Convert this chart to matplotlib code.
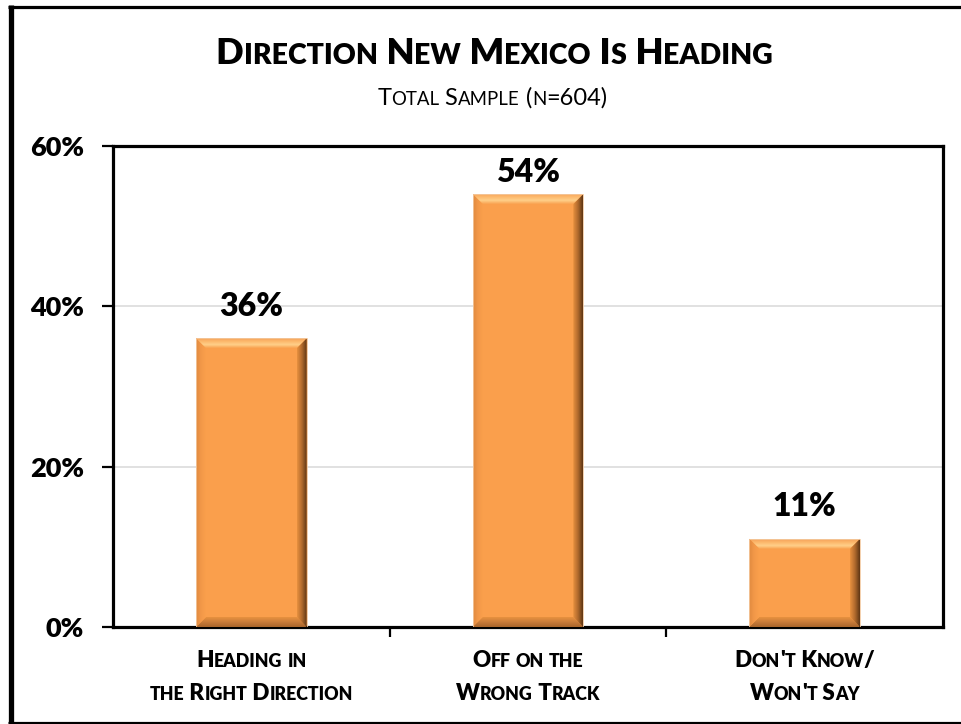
import numpy as np
import matplotlib
matplotlib.use("Agg")
import matplotlib.pyplot as plt
from matplotlib.offsetbox import TextArea, HPacker, VPacker, AnnotationBbox
from matplotlib.lines import Line2D
from matplotlib.patches import Polygon
from matplotlib.colors import LinearSegmentedColormap

# ---- data ----
categories = [["Heading in", "the Right Direction"],
              ["Off on the", "Wrong Track"],
              ["Don't Know/", "Won't Say"]]
values = [36, 54, 11]
yticks = [0, 20, 40, 60]
ytick_labels = ["0%", "20%", "40%", "60%"]
title = "Direction New Mexico Is Heading"
subtitle = "Total Sample (n=604)"

FONT = "Lato"
BOLD = "heavy"
W, H = 961, 724
DPI = 100

fig = plt.figure(figsize=(W / DPI, H / DPI), dpi=DPI)
fig.patch.set_facecolor("white")

ax_l, ax_r, ax_t, ax_b = 113, 943, 146, 627
ax = fig.add_axes([ax_l / W, (H - ax_b) / H, (ax_r - ax_l) / W, (ax_b - ax_t) / H])
ax.set_xlim(-0.5, len(values) - 0.5)
ax.set_ylim(0, 60)

# grid
for y in yticks[1:-1]:
    ax.axhline(y, color="#D9D9D9", lw=1.1, zorder=0)

for s in ax.spines.values():
    s.set_linewidth(2.3)
    s.set_color("black")

ax.set_yticks(yticks)
ax.set_yticklabels(ytick_labels, fontsize=19.5, fontweight=BOLD, family=FONT)
ax.tick_params(axis="y", length=8, width=1.6, pad=13, direction="out")
ax.set_xticks([])
ax.set_xticks(np.arange(0.5, len(values) - 0.5, 1.0), minor=True)
ax.tick_params(axis="x", which="minor", length=7, width=1.6, direction="out")
ax.tick_params(axis="x", which="major", length=0)
ax.set_xticklabels([])

# ---- bevelled bars ----
bar_w = 0.4
px_x = (ax.get_xlim()[1] - ax.get_xlim()[0]) / (ax_r - ax_l)
px_y = 60.0 / (ax_b - ax_t)
bev = 10
dx, dy = bev * px_x, bev * px_y

face = "#FA9F4C"


def grad_face(poly_pts, extent, colors, horizontal):
    poly = Polygon(poly_pts, closed=True, facecolor="none", edgecolor="none",
                   transform=ax.transData)
    ax.add_patch(poly)
    cmap = LinearSegmentedColormap.from_list("g", colors)
    g = np.linspace(0, 1, 64)
    arr = g[None, :] if horizontal else g[:, None]
    im = ax.imshow(arr, cmap=cmap, extent=extent, origin="lower",
                   aspect="auto", interpolation="bilinear", zorder=3)
    im.set_clip_path(poly)


label_gap = 32 * px_y          # label centre above bar top
label_ceiling = 60 - 26 * px_y  # keep labels inside the plot frame

for i, v in enumerate(values):
    x0, x1 = i - bar_w / 2, i + bar_w / 2
    y0, y1 = 0, v
    ax.add_patch(Polygon([(x0, y0), (x1, y0), (x1, y1), (x0, y1)], closed=True,
                         facecolor=face, edgecolor="none", zorder=2))
    # top bevel: light highlight band
    grad_face([(x0, y1), (x1, y1), (x1 - dx, y1 - dy), (x0 + dx, y1 - dy)],
              (x0, x1, y1 - dy, y1),
              ["#F9A250", "#FFD08A", "#FDB86C", "#F5A25A"], horizontal=False)
    # bottom bevel
    grad_face([(x0, y0), (x1, y0), (x1 - dx, y0 + dy), (x0 + dx, y0 + dy)],
              (x0, x1, y0, y0 + dy),
              ["#A9652B", "#C87C3A", "#E8913F"], horizontal=False)
    # left bevel
    grad_face([(x0, y0), (x0, y1), (x0 + dx, y1 - dy), (x0 + dx, y0 + dy)],
              (x0, x0 + dx, y0, y1),
              ["#E08A40", "#F29848", "#FA9F4C"], horizontal=True)
    # right bevel
    grad_face([(x1, y0), (x1, y1), (x1 - dx, y1 - dy), (x1 - dx, y0 + dy)],
              (x1 - dx, x1, y0, y1),
              ["#E8913F", "#B06A2D", "#5E3614"], horizontal=True)
    ax.add_patch(Polygon([(x0, y0), (x1, y0), (x1, y1), (x0, y1)], closed=True,
                         facecolor="none", edgecolor="#F3C9A0", lw=0.6, zorder=4))
    ax.text(i, min(v + label_gap, label_ceiling), f"{v}%",
            ha="center", va="center", fontsize=23, fontweight=BOLD,
            family=FONT, zorder=5)


# ---- small-caps text helper ----
def smallcaps_box(text, big, small, weight):
    runs = []
    for ch in text:
        is_small = ch.islower()
        if runs and runs[-1][1] == is_small:
            runs[-1][0] += ch
        else:
            runs.append([ch, is_small])
    parts = []
    for s, is_small in runs:
        parts.append(TextArea(s.upper() if is_small else s,
                              textprops=dict(fontsize=small if is_small else big,
                                             fontweight=weight, family=FONT)))
    return HPacker(children=parts, align="baseline", pad=0, sep=0)


def place(box, xy):
    ab = AnnotationBbox(box, xy, xycoords="figure pixels", frameon=False,
                        box_alignment=(0.5, 0.5), pad=0)
    ab.set_zorder(6)
    fig.add_artist(ab)


place(smallcaps_box(title, 26.2, 20.5, BOLD), (W / 2 + 14, H - 54))
place(smallcaps_box(subtitle, 17, 13.4, "normal"), (W / 2 + 12, H - 98))

for i, lines in enumerate(categories):
    box = VPacker(children=[smallcaps_box(t, 16.2, 12.8, BOLD) for t in lines],
                  align="center", pad=0, sep=8)
    ab = AnnotationBbox(box, (i, H - 677), xycoords=("data", "figure pixels"),
                        frameon=False, box_alignment=(0.5, 0.5), pad=0,
                        annotation_clip=False)
    ax.add_artist(ab)

# ---- outer frame ----
def fline(xs, ys, lw):
    fig.add_artist(Line2D([x / W for x in xs], [1 - y / H for y in ys],
                          transform=fig.transFigure, color="black", lw=lw,
                          solid_capstyle="butt"))

fline([10.5, 10.5], [5, H], 3.8)
fline([8, W], [6.5, 6.5], 2.3)
fline([8, W], [722.5, 722.5], 2.3)

fig.savefig("out.png", dpi=DPI)
